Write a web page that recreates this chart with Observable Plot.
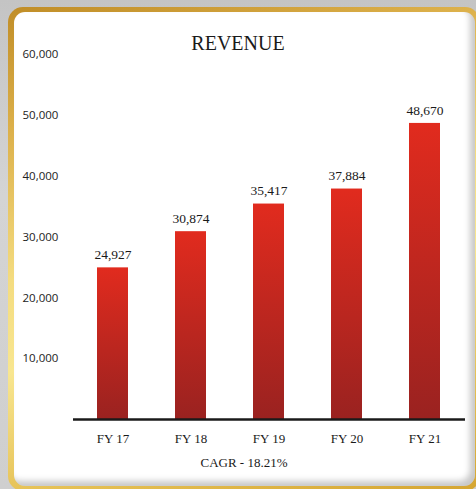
<!DOCTYPE html>
<html>
<head>
<meta charset="utf-8">
<script src="https://cdn.jsdelivr.net/npm/d3@7"></script>
<script src="https://cdn.jsdelivr.net/npm/@observablehq/plot@0.6"></script>
<style>
  html, body { margin: 0; padding: 0; }
  body { width: 476px; height: 489px; overflow: hidden; position: relative;
         background: linear-gradient(180deg, #c4c4c4 0%, #d4d4d4 40%, #cfcfcf 100%); }
  #frame { position: absolute; left: 8px; top: 7px; width: 472px; height: 484px; border-radius: 15px;
           background: linear-gradient(165deg, #c08d27 0%, #dcb04a 20%, #f4dc80 45%, #f8e690 60%, #e6c257 80%, #d5a531 100%); }
  #inner { position: absolute; left: 6px; top: 5px; right: 5px; bottom: 5px; border-radius: 11px;
           background: #fff; box-shadow: inset -5px -5px 6px rgba(0,0,0,0.22); }
  #title { position: absolute; left: 0; width: 476px; top: 32px; text-align: center;
           font-family: "Liberation Serif", serif; font-size: 20px; color: #1a1a1a; }
  #caption { position: absolute; left: 6px; width: 476px; top: 455px; text-align: center;
           font-family: "Liberation Serif", serif; font-size: 13px; color: #1a1a1a; }
  #chart { position: absolute; left: 0; top: 30px; }
</style>
</head>
<body>
<div id="frame"><div id="inner"></div></div>
<div id="title">REVENUE</div>
<div id="chart"></div>
<div id="caption">CAGR - 18.21%</div>
<script>
const years = ["FY 17", "FY 18", "FY 19", "FY 20", "FY 21"];
const revenue = [24927, 30874, 35417, 37884, 48670];
const yTicks = [10000, 20000, 30000, 40000, 50000, 60000];

const data = years.map((y, i) => ({year: y, value: revenue[i]}));
const fmt = d3.format(",");

const gradientDefs = () => {
  const defs = d3.create("svg:defs");
  const g = defs.append("linearGradient").attr("id", "barGrad")
    .attr("x1", 0).attr("y1", 0).attr("x2", 0).attr("y2", 1);
  g.append("stop").attr("offset", "0%").attr("stop-color", "#e12b1e");
  g.append("stop").attr("offset", "100%").attr("stop-color", "#9a2220");
  return defs.node();
};

const plot = Plot.plot({
  width: 476,
  height: 420,
  marginLeft: 73,
  marginRight: 11,
  marginTop: 24,
  marginBottom: 31,
  x: {domain: years, paddingInner: 0.6, paddingOuter: 0.3},
  y: {domain: [0, 60000]},
  style: {background: "transparent", overflow: "visible"},
  marks: [
    gradientDefs,
    Plot.barY(data, {x: "year", y: "value", fill: "url(#barGrad)"}),
    Plot.ruleY([0], {stroke: "#1a1a1a", strokeWidth: 2.5}),
    Plot.text(data, {x: "year", y: "value", text: d => fmt(d.value), dy: -13,
      fontFamily: "Liberation Serif", fontSize: 13.5, fill: "#1a1a1a"}),
    Plot.axisX({tickSize: 0, tickPadding: 14, fontFamily: "Liberation Serif", fontSize: 13, color: "#1a1a1a", label: null}),
    Plot.axisY({ticks: yTicks, tickFormat: fmt, tickSize: 0, tickPadding: 51, textAnchor: "start",
      fontFamily: "Open Sans", fontSize: 11.5, color: "#222", label: null})
  ]
});
document.getElementById("chart").appendChild(plot);
</script>
</body>
</html>
